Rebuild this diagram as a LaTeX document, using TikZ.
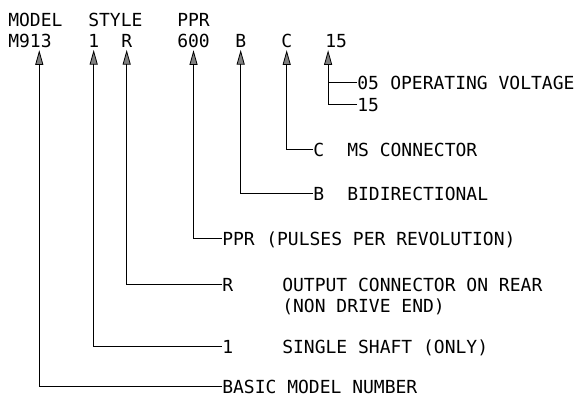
\documentclass[tikz,border=0pt]{standalone}
\usepackage{fontspec}
\setmainfont{DejaVu Sans Mono}
\usetikzlibrary{arrows.meta}

\begin{document}
\begin{tikzpicture}[x=0.75pt, y=-0.75pt,
    every node/.style={inner sep=0pt, anchor=base west, font=\fontsize{13.5}{16}\selectfont},
    feed/.style={-{Triangle[length=11pt, width=6pt, fill=gray]}, line width=0.6pt, shorten >=2pt},
    tick/.style={line width=0.6pt}]
    \useasboundingbox (0, 0) rectangle (580, 401); % page size
    % heading and code
    \node (hmodel) at (8, 26) {MODEL};
    \node (hstyle) at (88, 26) {STYLE};
    \node (hppr) at (177, 26) {PPR};
    \node (cmodel) at (8, 47) {M913};
    \node (cstyle) at (88, 47) {1};
    \node (cend) at (121, 47) {R};
    \node (cppr) at (177, 47) {600};
    \node (cdir) at (235, 47) {B};
    \node (cconn) at (281, 47) {C};
    \node (cvolt) at (325, 47) {15};
    \coordinate (vtip) at ([xshift=-6]cvolt.south);
    % options
    \node (v05) at (357, 89) {05};
    \node (tvolt) at (390, 89) {OPERATING VOLTAGE};
    \node (v15) at (357, 111) {15};
    \node (ccode) at (313, 156) {C};
    \node (tconn) at (347, 156) {MS CONNECTOR};
    \node (bcode) at (313, 200) {B};
    \node (tdir) at (347, 200) {BIDIRECTIONAL};
    \node (pcode) at (222, 245) {PPR};
    \node (tppr) at (266, 245) {(PULSES PER REVOLUTION)};
    \node (rcode) at (222, 291) {R};
    \node (trear) at (282, 291) {OUTPUT CONNECTOR ON REAR};
    \node (trear2) at (282, 312) {(NON DRIVE END)};
    \node (scode) at (222, 353) {1};
    \node (tshaft) at (282, 353) {SINGLE SHAFT (ONLY)};
    \node (basic) at (222, 393) {BASIC MODEL NUMBER};
    % leaders
    \draw[feed] (basic.west) -| ([xshift=7]cmodel.south);
    \draw[feed] (scode.west) -| (cstyle.south);
    \draw[feed] (rcode.west) -| (cend.south);
    \draw[feed] (pcode.west) -| (cppr.south);
    \draw[feed] (bcode.west) -| (cdir.south);
    \draw[feed] (ccode.west) -| (cconn.south);
    \draw[feed] (v15.west) -| (vtip);
    \draw[tick] (v05.west) -- (v05.west -| vtip);
\end{tikzpicture}
\end{document}
